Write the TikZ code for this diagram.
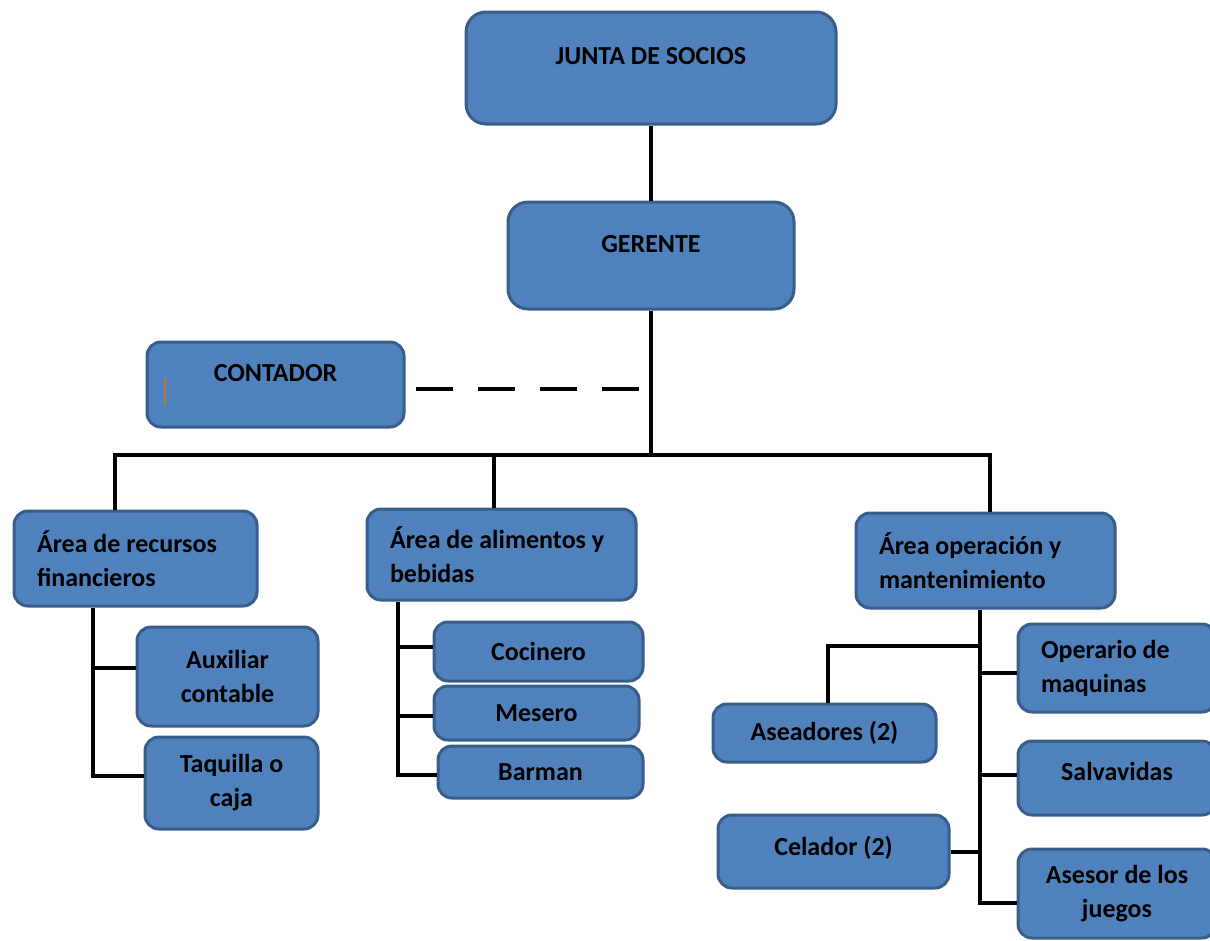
\documentclass[tikz,border=0pt]{standalone}
\usepackage{fontspec}
\setmainfont{Carlito}
\usetikzlibrary{positioning}
\definecolor{boxfill}{HTML}{4F81BD}
\definecolor{boxline}{HTML}{385D8A}
\definecolor{cursor}{HTML}{B07A30}

\begin{document}
\begin{tikzpicture}[
  x=1pt,y=-1pt,
  font=\fontsize{26}{34}\selectfont\bfseries,
  box/.style={draw=boxline,fill=boxfill,line width=3pt,rounded corners=14pt,
              inner sep=0pt,align=center},
  big/.style={box,rounded corners=20pt},
  lift/.style={text height=18pt,text depth=#1},
  area/.style={box,align=flush left,inner xsep=23pt,text width=#1},
  ln/.style={draw=black,line width=4.5pt},
  dsh/.style={ln,dash pattern=on 37pt off 25pt}]

\useasboundingbox (0,0) rectangle (1210,940);
\clip (0,0) rectangle (1210,940);

% ---- top of the chart -----------------------------------------------------
\node[big,lift=26pt,minimum width=370pt,minimum height=112pt] (junta) at (651,68)
  {JUNTA DE SOCIOS};
\node[big,lift=24pt,minimum width=286pt,minimum height=107pt] (ger) at (651,255.5)
  {GERENTE};
\node[box,lift=24pt,minimum width=257pt,minimum height=85pt] (cont) at (275.5,384.5)
  {CONTADOR};
\draw[cursor,line width=1.2pt] (165,378) -- (165,405);

% ---- the three areas ------------------------------------------------------
\node[area=197pt,minimum width=243pt,minimum height=95pt] (arf) at (135.5,558.5)
  {Área de recursos\\financieros};
\node[area=223pt,minimum width=269pt,minimum height=91pt] (aab) at (501.5,554.5)
  {Área de alimentos y\\bebidas};
\node[area=213pt,minimum width=259pt,minimum height=95pt] (aop) at (985.5,560.5)
  {Área operación y\\mantenimiento};

% ---- staff under each area ------------------------------------------------
\node[box,minimum width=181pt,minimum height=99pt] (aux) at (227.5,676.5)
  {Auxiliar\\contable};
\node[box,minimum width=173pt,minimum height=92pt] (taq) at (231.5,783)
  {Taquilla o\\caja};
\node[box,minimum width=209pt,minimum height=59pt] (coc) at (538.5,651.5) {Cocinero};
\node[box,minimum width=205pt,minimum height=54pt] (mes) at (536.5,713) {Mesero};
\node[box,minimum width=205pt,minimum height=52pt] (bar) at (540.5,772) {Barman};
\node[box,minimum width=223pt,minimum height=58pt] (ase) at (824.5,733)
  {Aseadores (2)};
\node[box,lift=10pt,minimum width=231pt,minimum height=73pt] (cel) at (833.5,851.5)
  {Celador (2)};
\node[area=152pt,minimum width=198pt,minimum height=88pt] (ope) at (1117,668)
  {Operario de\\maquinas};
\node[box,lift=14pt,minimum width=198pt,minimum height=74pt] (sal) at (1117,778)
  {Salvavidas};
\node[box,minimum width=198pt,minimum height=89pt] (ases) at (1117,893.5)
  {Asesor de los\\juegos};

% ---- connectors -----------------------------------------------------------
\coordinate (busL) at (115,455);
\coordinate (busM) at (494,455);
\coordinate (busR) at (990,455);
\draw[ln] (junta.south) -- (ger.north);
\draw[ln] (ger.south) -- (ger.south |- busL);
\draw[ln] (busL |- arf.north) -- (busL) -- (busR) -- (busR |- aop.north);
\draw[ln] (busM) -- (busM |- aab.north);

\coordinate (dashA) at (416,389);
\coordinate (dashB) at (640,389);
\draw[dsh] (dashA) -- (dashB);

% left branch
\coordinate (lfA) at (93,668);
\coordinate (lfB) at (93,776);
\draw[ln] (lfB |- arf.south) -- (lfB) -- (lfB -| taq.west);
\draw[ln] (lfA) -- (lfA -| aux.west);

% middle branch
\coordinate (mdA) at (398,647);
\coordinate (mdB) at (398,716);
\coordinate (mdC) at (398,775);
\draw[ln] (mdC |- aab.south) -- (mdC) -- (mdC -| bar.west);
\draw[ln] (mdA) -- (mdA -| coc.west);
\draw[ln] (mdB) -- (mdB -| mes.west);

% right branch
\coordinate (rtA) at (980,646);
\coordinate (rtB) at (980,673);
\coordinate (rtC) at (980,775);
\coordinate (rtD) at (980,852);
\coordinate (rtE) at (980,903);
\coordinate (aseK) at (828,646);
\draw[ln] (rtE |- aop.south) -- (rtE) -- (rtE -| ases.west);
\draw[ln] (rtA) -- (aseK) -- (aseK |- ase.north);
\draw[ln] (rtB) -- (rtB -| ope.west);
\draw[ln] (rtC) -- (rtC -| sal.west);
\draw[ln] (cel.east |- rtD) -- (rtD);
\end{tikzpicture}
\end{document}
